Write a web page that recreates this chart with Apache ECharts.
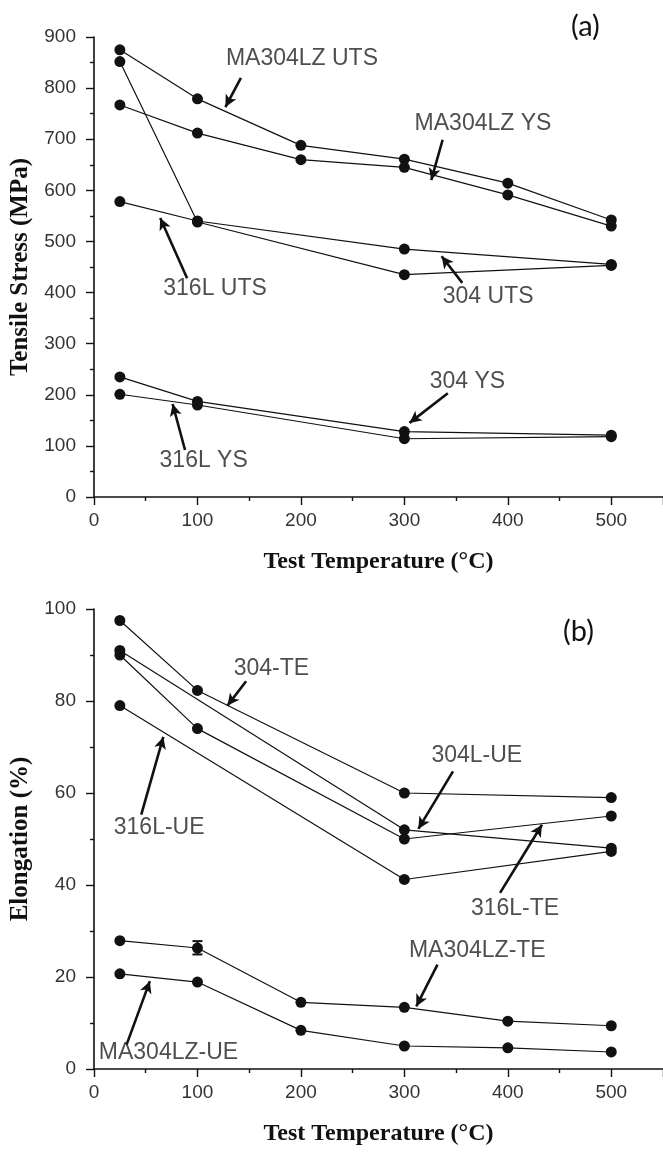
<!DOCTYPE html>
<html>
<head>
<meta charset="utf-8">
<script src="https://cdn.jsdelivr.net/npm/echarts@6/dist/echarts.min.js"></script>
<style>
html,body{margin:0;padding:0;background:#fff;}
#chart{width:663px;height:1153px;}
</style>
</head>
<body>
<div id="chart"></div>
<script>
// ---------- data ----------
const tempsAll = [25, 100, 200, 300, 400, 500];
const tempsFour = [25, 100, 300, 500];
const tempsThree = [25, 300, 500];

// Panel (a) – Tensile stress (MPa)
const ma304lzUTS = [875, 779, 688, 661, 614, 542];
const ma304lzYS  = [767, 712, 660, 645, 591, 530];
const uts316L    = [578, 540, 485, 455];
const uts304     = [852, 538, 435, 453];
const ys304      = [235, 187, 128, 121];
const ys316L     = [201, 180, 114, 118];

// Panel (b) – Elongation (%)
const te304      = [97.5, 82.3, 60.0, 59.0];
const te316L     = [91.0, 52.0, 48.0];        // at tempsThree
const ue304L     = [90.0, 74.0, 50.0, 55.0];
const ue316L     = [79.0, 41.2, 47.3];        // at tempsThree
const teMA304LZ  = [27.9, 26.3, 14.5, 13.4, 10.4, 9.4];
const ueMA304LZ  = [20.7, 18.9, 8.4, 5.0, 4.6, 3.7];
const errMA304LZ = [[100, 24.9, 27.8]];       // [temp, low, high]

const xTicks = [0, 100, 200, 300, 400, 500];

// annotations (data coordinates)
const annotA = [
  {text: 'MA304LZ UTS', at: [201, 857], from: [142, 820], to: [127, 763]},
  {text: 'MA304LZ YS',  at: [376, 730], from: [337, 699], to: [326, 620]},
  {text: '316L UTS',    at: [117, 407], from: [90, 428],  to: [64, 546]},
  {text: '304 UTS',     at: [381, 392], from: [356, 419], to: [336, 471]},
  {text: '304 YS',      at: [361, 226], from: [342, 203], to: [305, 145]},
  {text: '316L YS',     at: [106, 71],  from: [88, 92],   to: [76, 182]}
];
const annotB = [
  {text: '304-TE',      at: [171.5, 87],  from: [147, 84.3],  to: [129, 79]},
  {text: '304L-UE',     at: [370, 68.1],  from: [347, 64.7],  to: [313.5, 52.2]},
  {text: '316L-UE',     at: [63, 52.5],   from: [45.7, 55.3], to: [67, 72.2]},
  {text: '316L-TE',     at: [407, 34.8],  from: [392.5, 38.3],to: [433, 53.1]},
  {text: 'MA304LZ-TE',  at: [370.5, 25.8],from: [332, 22.7],  to: [311.5, 13.6]},
  {text: 'MA304LZ-UE',  at: [72, 3.5],    from: [31.5, 5.3],  to: [54, 19.1]}
];

// ---------- helpers ----------
const zip = (xs, ys) => xs.map((x, i) => [x, ys[i]]);
const INK = '#111';

function lineSeries(name, xs, ys, idx) {
  return {
    type: 'line', name: name, xAxisIndex: idx, yAxisIndex: idx,
    data: zip(xs, ys),
    symbol: 'circle', symbolSize: 11,
    itemStyle: {color: INK},
    lineStyle: {color: INK, width: 1.2},
    animation: false, z: 3
  };
}

function annotSeries(list, idx) {
  return {
    type: 'scatter', xAxisIndex: idx, yAxisIndex: idx,
    data: list.map(a => ({value: a.at, name: a.text})),
    symbolSize: 0, silent: true, animation: false,
    label: {
      show: true, position: 'inside', formatter: p => p.name,
      fontFamily: 'Liberation Sans, Arial, sans-serif', fontSize: 23, color: '#222'
    },
    markLine: {
      silent: true, animation: false,
      symbol: ['none', 'arrow'], symbolSize: [9, 12],
      lineStyle: {color: INK, width: 2.6, type: 'solid'},
      label: {show: false},
      data: list.map(a => [{coord: a.from}, {coord: a.to}])
    },
    z: 5
  };
}

function xAxisCfg(idx) {
  return {
    type: 'value', gridIndex: idx, min: 0, max: 550, interval: 100,
    name: 'Test Temperature (\u00B0C)', nameLocation: 'middle', nameGap: 53,
    nameTextStyle: {fontFamily: 'Liberation Serif, Times New Roman, serif', fontWeight: 'bold', fontSize: 24, color: '#111'},
    axisLine: {show: true, onZero: false, lineStyle: {color: INK, width: 1.6}},
    axisTick: {show: true, length: 8, lineStyle: {color: INK, width: 1.4}},
    minorTick: {show: true, splitNumber: 2, length: 4, lineStyle: {color: INK, width: 1.4}},
    splitLine: {show: false}, minorSplitLine: {show: false},
    axisLabel: {
      fontFamily: 'Liberation Sans, Arial, sans-serif', fontSize: 19, color: '#333', margin: 14,
      showMaxLabel: false,
      formatter: v => (xTicks.indexOf(v) >= 0 ? String(v) : '')
    }
  };
}

function yAxisCfg(idx, name, max, interval) {
  return {
    type: 'value', gridIndex: idx, min: 0, max: max, interval: interval,
    name: name, nameLocation: 'middle', nameGap: 52,
    nameTextStyle: {fontFamily: 'Liberation Serif, Times New Roman, serif', fontWeight: 'bold', fontSize: 25, color: '#111'},
    axisLine: {show: true, onZero: false, lineStyle: {color: INK, width: 1.6}},
    axisTick: {show: true, length: 8, lineStyle: {color: INK, width: 1.4}},
    minorTick: {show: true, splitNumber: 2, length: 4, lineStyle: {color: INK, width: 1.4}},
    splitLine: {show: false}, minorSplitLine: {show: false},
    axisLabel: {fontFamily: 'Liberation Sans, Arial, sans-serif', fontSize: 19, color: '#333', margin: 18}
  };
}

const chart = echarts.init(document.getElementById('chart'), null, {renderer: 'canvas'});

const option = {
  backgroundColor: '#fff',
  animation: false,
  grid: [
    {left: 94, top: 37, width: 573, height: 460},
    {left: 94, top: 609, width: 573, height: 460}
  ],
  xAxis: [xAxisCfg(0), xAxisCfg(1)],
  yAxis: [
    yAxisCfg(0, 'Tensile Stress (MPa)', 900, 100),
    yAxisCfg(1, 'Elongation (%)', 100, 20)
  ],
  graphic: [
    {type: 'text', left: 571, top: 12, style: {text: '(a)', font: '29px Lato, "Open Sans", sans-serif', fill: '#111'}},
    {type: 'text', left: 563, top: 617, style: {text: '(b)', font: '29px Lato, "Open Sans", sans-serif', fill: '#111'}}
  ],
  series: [
    lineSeries('MA304LZ UTS', tempsAll, ma304lzUTS, 0),
    lineSeries('MA304LZ YS', tempsAll, ma304lzYS, 0),
    lineSeries('316L UTS', tempsFour, uts316L, 0),
    lineSeries('304 UTS', tempsFour, uts304, 0),
    lineSeries('304 YS', tempsFour, ys304, 0),
    lineSeries('316L YS', tempsFour, ys316L, 0),
    annotSeries(annotA, 0),

    lineSeries('304-TE', tempsFour, te304, 1),
    lineSeries('316L-TE', tempsThree, te316L, 1),
    lineSeries('304L-UE', tempsFour, ue304L, 1),
    lineSeries('316L-UE', tempsThree, ue316L, 1),
    lineSeries('MA304LZ-TE', tempsAll, teMA304LZ, 1),
    lineSeries('MA304LZ-UE', tempsAll, ueMA304LZ, 1),
    {
      type: 'custom', xAxisIndex: 1, yAxisIndex: 1, data: errMA304LZ, animation: false, z: 4,
      renderItem: function (params, api) {
        const x = api.value(0);
        const lo = api.coord([x, api.value(1)]);
        const hi = api.coord([x, api.value(2)]);
        const w = 5;
        const st = {stroke: INK, lineWidth: 2};
        return {type: 'group', children: [
          {type: 'line', shape: {x1: lo[0], y1: lo[1], x2: hi[0], y2: hi[1]}, style: st},
          {type: 'line', shape: {x1: lo[0] - w, y1: lo[1], x2: lo[0] + w, y2: lo[1]}, style: st},
          {type: 'line', shape: {x1: hi[0] - w, y1: hi[1], x2: hi[0] + w, y2: hi[1]}, style: st}
        ]};
      }
    },
    annotSeries(annotB, 1)
  ]
};
chart.setOption(option);
</script>
</body>
</html>
